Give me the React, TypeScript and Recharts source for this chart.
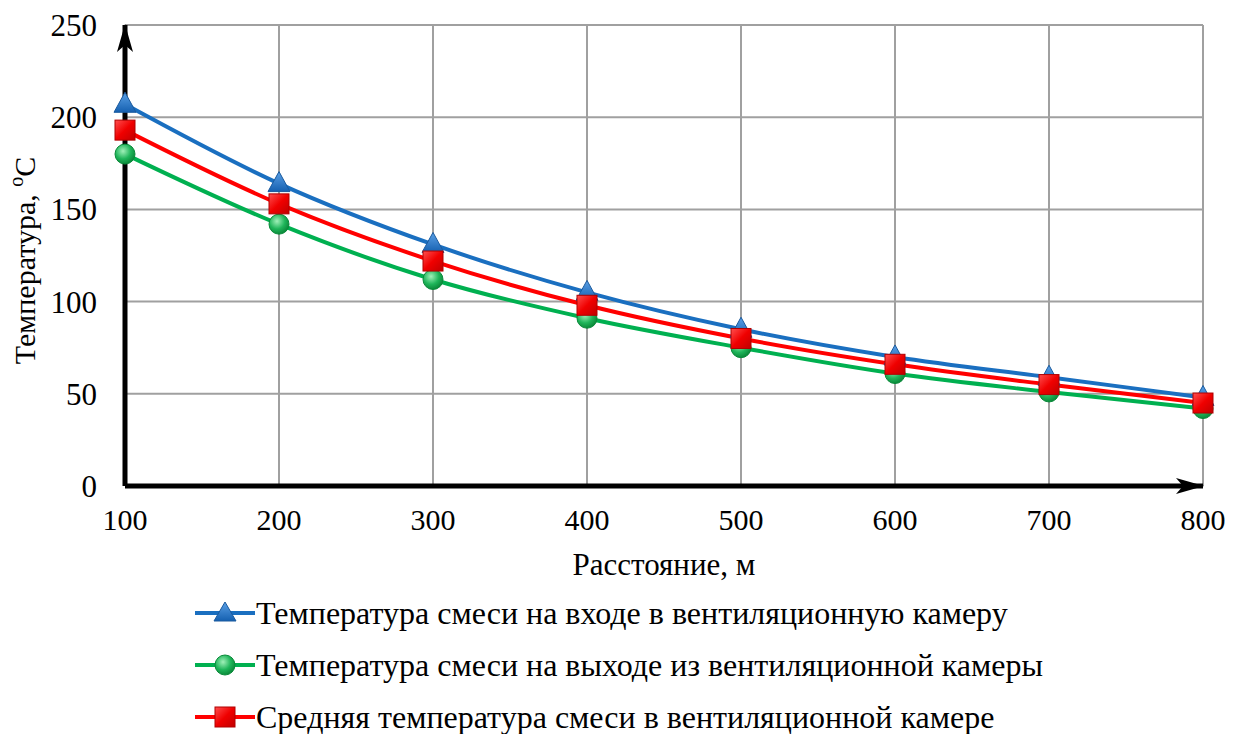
import React from 'react'
import { LineChart, Line, XAxis, YAxis, CartesianGrid } from 'recharts'

// Distance along the gallery, m
const distances = [100, 200, 300, 400, 500, 600, 700, 800]
// Mixture temperature at ventilation chamber inlet, °C
const inletTemp = [207, 164, 131, 105, 85, 70, 59, 48]
// Mixture temperature at ventilation chamber outlet, °C
const outletTemp = [180, 142, 112, 91, 75, 61, 51, 42]
// Mean mixture temperature in ventilation chamber, °C
const meanTemp = [193, 153, 122, 98, 80, 66, 55, 45]

const xTicks = [100, 200, 300, 400, 500, 600, 700, 800]
const yTicks = [0, 50, 100, 150, 200, 250]

const data = distances.map((d, i) => ({
  x: d,
  inlet: inletTemp[i],
  outlet: outletTemp[i],
  mean: meanTemp[i],
}))

const FONT = 'Liberation Serif'
const BLUE = '#1a6fc0'
const GREEN = '#00b050'
const RED = '#ff0000'

function Triangle({ cx, cy }: any) {
  if (cx == null || cy == null) return null
  return (
    <path
      d={`M${cx},${cy - 12} L${cx + 11},${cy + 8} L${cx - 11},${cy + 8} Z`}
      fill="url(#gBlue)"
      stroke="#1a5a9e"
      strokeWidth={1}
    />
  )
}

function Circle({ cx, cy }: any) {
  if (cx == null || cy == null) return null
  return <circle cx={cx} cy={cy} r={10} fill="url(#gGreen)" stroke="#0a8a3a" strokeWidth={1} />
}

function Square({ cx, cy }: any) {
  if (cx == null || cy == null) return null
  return <rect x={cx - 10} y={cy - 10} width={20} height={20} fill="url(#gRed)" stroke="#b00000" strokeWidth={1} />
}

function XLabel({ viewBox }: any) {
  const { x, y, width } = viewBox
  return (
    <text x={x + width / 2} y={y + 89} textAnchor="middle" fontFamily={FONT} fontSize={31} fill="#000">
      Расстояние, м
    </text>
  )
}

function YLabel({ viewBox }: any) {
  const { y, height } = viewBox
  const cy = y + height / 2 + 5
  return (
    <text x={35} y={cy} transform={`rotate(-90 35 ${cy})`} textAnchor="middle" fontFamily={FONT} fontSize={30} fill="#000">
      Температура, <tspan fontSize={20} dy={-12}>o</tspan>
      <tspan dy={12}>C</tspan>
    </text>
  )
}

const legendItems = [
  { label: 'Температура смеси на входе в вентиляционную камеру', color: BLUE, marker: 'tri' },
  { label: 'Температура смеси на выходе из вентиляционной камеры', color: GREEN, marker: 'circ' },
  { label: 'Средняя температура смеси в вентиляционной камере', color: RED, marker: 'sq' },
]

function LegendIcon({ color, marker }: { color: string; marker: string }) {
  return (
    <svg width={62} height={24} style={{ display: 'block' }}>
      <line x1={1} y1={12} x2={61} y2={12} stroke={color} strokeWidth={4} />
      {marker === 'tri' && <path d="M31,1 L42,20 L20,20 Z" fill="url(#gBlue)" stroke="#1a5a9e" strokeWidth={1} />}
      {marker === 'circ' && <circle cx={31} cy={12} r={10} fill="url(#gGreen)" stroke="#0a8a3a" strokeWidth={1} />}
      {marker === 'sq' && <rect x={21} y={2} width={20} height={20} fill="url(#gRed)" stroke="#b00000" strokeWidth={1} />}
    </svg>
  )
}

export default function App() {
  return (
    <div style={{ position: 'absolute', left: 0, top: 0, width: 1240, height: 734, background: '#fff' }}>
      <LineChart width={1240} height={734} data={data} margin={{ top: 25, right: 37, left: 0, bottom: 148 }}>
        <defs>
          <linearGradient id="gBlue" x1="0" y1="0" x2="0" y2="1">
            <stop offset="0%" stopColor="#5aa0e6" />
            <stop offset="100%" stopColor="#1560b0" />
          </linearGradient>
          <radialGradient id="gGreen" cx="40%" cy="35%" r="65%">
            <stop offset="0%" stopColor="#9ff0b8" />
            <stop offset="60%" stopColor="#1fb55a" />
            <stop offset="100%" stopColor="#0b8a3a" />
          </radialGradient>
          <linearGradient id="gRed" x1="0" y1="0" x2="1" y2="1">
            <stop offset="0%" stopColor="#ff5050" />
            <stop offset="50%" stopColor="#f00000" />
            <stop offset="100%" stopColor="#c00000" />
          </linearGradient>
          <marker id="arrowHead" viewBox="0 0 28 16" refX={27} refY={8} markerWidth={28} markerHeight={16} markerUnits="userSpaceOnUse" orient="auto-start-reverse">
            <path d="M0,0 L28,8 L0,16 L7,8 Z" fill="#000" />
          </marker>
        </defs>
        <CartesianGrid stroke="#a0a0a0" strokeWidth={2} horizontalValues={yTicks} verticalValues={xTicks} />
        <XAxis
          dataKey="x"
          type="number"
          domain={[100, 800]}
          ticks={xTicks}
          height={100}
          tickSize={0}
          tickMargin={23}
          axisLine={{ stroke: '#000', strokeWidth: 5, markerEnd: 'url(#arrowHead)' }}
          tick={{ fontFamily: FONT, fontSize: 30, fill: '#000' }}
          label={<XLabel />}
        />
        <YAxis
          type="number"
          domain={[0, 250]}
          ticks={yTicks}
          width={125}
          tickSize={0}
          tickMargin={28}
          axisLine={{ stroke: '#000', strokeWidth: 5, markerStart: 'url(#arrowHead)' }}
          tick={{ fontFamily: FONT, fontSize: 31, fill: '#000' }}
          label={<YLabel />}
        />
        <Line type="monotone" dataKey="inlet" stroke={BLUE} strokeWidth={4} dot={<Triangle />} activeDot={false} isAnimationActive={false} />
        <Line type="monotone" dataKey="outlet" stroke={GREEN} strokeWidth={4} dot={<Circle />} activeDot={false} isAnimationActive={false} />
        <Line type="monotone" dataKey="mean" stroke={RED} strokeWidth={4} dot={<Square />} activeDot={false} isAnimationActive={false} />
      </LineChart>
      <div style={{ position: 'absolute', left: 194, top: 587, fontFamily: FONT, fontSize: 32, color: '#000' }}>
        {legendItems.map((it) => (
          <div key={it.label} style={{ display: 'flex', alignItems: 'center', height: 52 }}>
            <LegendIcon color={it.color} marker={it.marker} />
            <span style={{ marginLeft: 0, whiteSpace: 'nowrap' }}>{it.label}</span>
          </div>
        ))}
      </div>
    </div>
  )
}
